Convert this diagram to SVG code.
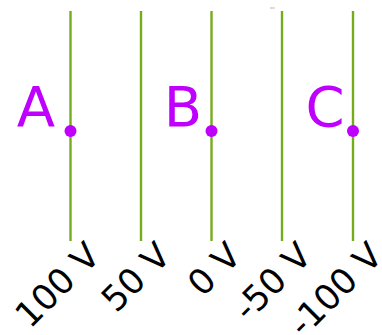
<svg xmlns="http://www.w3.org/2000/svg" width="382" height="335" viewBox="0 0 382 335">
<style>
.eq{stroke:#77ab1e;stroke-width:2.4;fill:none}
.pt{fill:#bf00ff}
.lbl{font-family:"DejaVu Sans",sans-serif;font-size:56px;fill:#bf00ff;text-anchor:middle}
.v{font-family:"DejaVu Sans",sans-serif;font-size:35px;fill:#000;text-anchor:end}
</style>
<rect width="382" height="335" fill="#fff"/>
<g id="connectors">
<line class="eq" x1="70.5" y1="11" x2="70.5" y2="241"/>
<line class="eq" x1="141" y1="11" x2="141" y2="241"/>
<line class="eq" x1="211.5" y1="11" x2="211.5" y2="241"/>
<line class="eq" x1="282" y1="11" x2="282" y2="241"/>
<line class="eq" x1="353" y1="11" x2="353" y2="241"/>
<line x1="270" y1="8" x2="275" y2="8" stroke="#aaa" stroke-width="0.8"/>
</g>
<g id="A"><circle class="pt" cx="70.5" cy="131" r="6"/><text class="lbl" x="36" y="126">A</text></g>
<g id="B"><circle class="pt" cx="211.5" cy="131" r="6"/><text class="lbl" x="183" y="126">B</text></g>
<g id="C"><circle class="pt" cx="353" cy="131" r="6"/><text class="lbl" x="325" y="126">C</text></g>
<g id="v100"><text class="v" transform="translate(102,257.5) rotate(-45)">100 V</text></g>
<g id="v50"><text class="v" transform="translate(172.5,257.5) rotate(-45)">50 V</text></g>
<g id="v0"><text class="v" transform="translate(243,257.5) rotate(-45)">0 V</text></g>
<g id="vm50"><text class="v" transform="translate(313.5,257.5) rotate(-45)">-50 V</text></g>
<g id="vm100"><text class="v" transform="translate(384.5,257.5) rotate(-45)">-100 V</text></g>
</svg>
